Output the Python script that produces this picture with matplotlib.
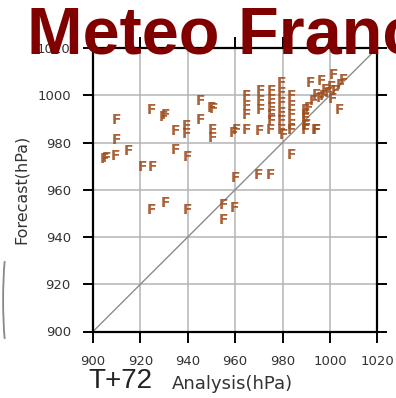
import matplotlib
matplotlib.use("Agg")
import matplotlib.pyplot as plt
from matplotlib.patches import Arc

# Analysed vs forecast central pressure (hPa), T+72
analysis = [
    909.8, 909.8, 905.0, 905.8, 909.6, 914.8, 921.1, 925.3, 924.7, 929.6,
    930.4, 934.9, 939.6, 939.6, 934.9, 939.8, 945.2, 950.1, 950.8, 945.2,
    950.6, 950.6, 924.8, 930.8, 939.8, 955.1, 955.1, 959.7,
    960.0, 969.8, 974.8, 983.9,
    959.3, 960.7, 964.9, 970.3, 974.8, 979.7, 980.4, 983.9, 989.6, 994.5,
    964.9, 964.9, 964.9,
    970.6, 970.6, 970.6,
    975.5, 975.5, 975.5, 975.5, 975.5,
    979.7, 979.7, 979.7, 979.7, 979.7,
    983.9, 983.9, 983.9, 983.9,
    989.6, 989.6, 989.6,
    991.7, 996.6, 1001.5, 998.0, 1000.8, 1004.4, 1005.7, 994.5, 993.1, 991.0,
    989.6, 990.3, 993.8, 1004.0, 995.9, 999.4, 1002.2, 997.5, 1001.0,
]
forecast = [
    989.6, 981.1, 973.0, 973.6, 974.1, 976.2, 969.6, 969.6, 993.9, 991.0,
    991.8, 984.7, 986.8, 983.7, 976.9, 973.8, 997.4, 994.6, 994.0, 989.6,
    985.4, 981.9, 951.5, 954.3, 951.5, 953.6, 947.2, 952.2,
    964.9, 966.3, 966.3, 974.8,
    983.9, 985.4, 985.4, 984.7, 985.4, 985.4, 983.3, 985.4, 985.4, 985.4,
    999.5, 995.3, 991.7,
    1001.6, 997.4, 993.9,
    1001.6, 998.1, 994.6, 991.7, 988.9,
    1005.2, 1000.9, 996.7, 992.5, 988.9,
    999.5, 995.3, 991.7, 987.5,
    993.9, 990.3, 986.8,
    1005.2, 1005.9, 1008.7, 1002.3, 1003.7, 1004.4, 1006.3, 1000.2, 997.4, 994.6,
    991.7, 987.5, 985.4, 993.9, 998.8, 1000.9, 1001.6, 999.5, 998.5,
]
ticks = [900, 920, 940, 960, 980, 1000, 1020]

fig = plt.figure(figsize=(3.96, 3.98), dpi=100)
fig.patch.set_facecolor("white")
ax = fig.add_axes([93 / 396, 1 - 331.5 / 398, 284.3 / 396, 283.5 / 398])

ax.set_xlim(900, 1020)
ax.set_ylim(900, 1020)
ax.set_xticks(ticks)
ax.set_yticks(ticks)
ax.grid(True, color="#b4b4b4", linewidth=1.1)
ax.set_axisbelow(True)

# perfect-forecast diagonal
ax.plot([900, 1020], [900, 1020], color="#8c8c8c", linewidth=1.0, zorder=2)

for a, f in zip(analysis, forecast):
    ax.text(a, f, "F", color="#9e4c1c", fontsize=10, fontweight="bold",
            family="DejaVu Sans", ha="center", va="center", zorder=3, alpha=0.88)

for s in ax.spines.values():
    s.set_linewidth(1.6)
    s.set_color("black")
ax.tick_params(direction="out", top=True, right=True, length=8, width=1.4,
               pad=9, labelsize=9.5, labelcolor="#333333", color="black")
ax.tick_params(axis="y", length=7)

ax.set_ylabel("Forecast(hPa)", fontsize=11.5, color="#333333", labelpad=6)

fig.text(172 / 396, 1 - 384 / 398, "Analysis(hPa)", fontsize=13,
         color="#333333", va="center", ha="left")
fig.text(88 / 396, 1 - 381 / 398, "T+72", fontsize=20, color="#222222",
         va="center", ha="left", family="Liberation Sans")

fig.text(27 / 396, 1 - 53 / 398, "Meteo France", fontsize=48,
         fontweight="bold", color="#800000", family="Liberation Sans",
         va="baseline", ha="left", zorder=10)

# faint slide edge on the far left
fig.add_artist(Arc((15 / 396, 1 - 300 / 398), 0.06, 0.4, theta1=105,
                   theta2=255, transform=fig.transFigure,
                   color="#3e4e3c", linewidth=1.3, alpha=0.65))

fig.savefig("out.png", dpi=100, facecolor="white")
